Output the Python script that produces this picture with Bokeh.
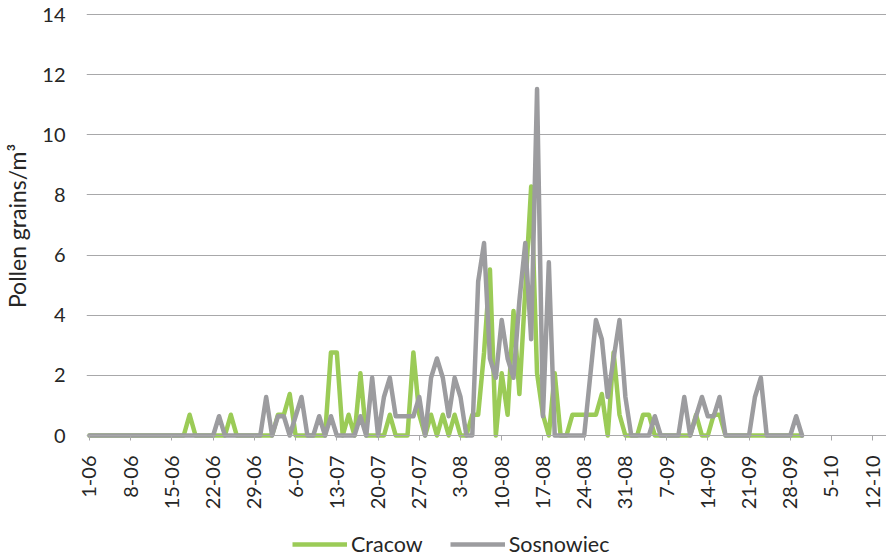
import math
from bokeh.plotting import figure
from bokeh.layouts import column
from bokeh.models import FixedTicker, Legend, LegendItem, Range1d, Span
from bokeh.embed import file_html
from bokeh.resources import INLINE

# Daily pollen concentrations, 1 June .. 30 September (pollen grains / m3)
cracow = [
    0, 0, 0, 0, 0, 0, 0, 0, 0, 0,
    0, 0, 0, 0, 0, 0, 0, 0.69, 0, 0,
    0, 0, 0, 0, 0.69, 0, 0, 0, 0, 0,
    0, 0, 0.69, 0.69, 1.38, 0, 0, 0, 0, 0,
    0, 2.76, 2.76, 0, 0.69, 0, 2.07, 0, 0, 0,
    0, 0.69, 0, 0, 0, 2.76, 0.69, 0, 0.69, 0,
    0.69, 0, 0.69, 0, 0, 0.69, 0.69, 2.76, 5.52, 0,
    2.07, 0.69, 4.14, 1.38, 4.83, 8.28, 2.07, 0.69, 0, 2.07,
    0, 0, 0.69, 0.69, 0.69, 0.69, 0.69, 1.38, 0, 2.76,
    0.69, 0, 0, 0, 0.69, 0.69, 0, 0, 0, 0,
    0, 0, 0, 0.69, 0, 0, 0.69, 0.69, 0, 0,
    0, 0, 0, 0, 0, 0, 0, 0, 0, 0,
    0, 0,
]
sosnowiec = [
    0, 0, 0, 0, 0, 0, 0, 0, 0, 0,
    0, 0, 0, 0, 0, 0, 0, 0, 0, 0,
    0, 0, 0.64, 0, 0, 0, 0, 0, 0, 0,
    1.28, 0, 0.64, 0.64, 0, 0.64, 1.28, 0, 0, 0.64,
    0, 0.64, 0, 0, 0, 0, 0.64, 0, 1.92, 0,
    1.28, 1.92, 0.64, 0.64, 0.64, 0.64, 1.28, 0, 1.92, 2.56,
    1.92, 0.64, 1.92, 1.28, 0, 0, 5.12, 6.4, 2.56, 1.92,
    3.84, 2.56, 1.92, 4.48, 6.4, 3.2, 11.52, 0.64, 5.76, 0,
    0, 0, 0, 0, 0, 1.92, 3.84, 3.2, 1.28, 2.56,
    3.84, 1.28, 0, 0, 0, 0, 0.64, 0, 0, 0,
    0, 1.28, 0, 0.64, 1.28, 0.64, 0.64, 1.28, 0, 0,
    0, 0, 0, 1.28, 1.92, 0, 0, 0, 0, 0,
    0.64, 0,
]
series_names = ["Cracow", "Sosnowiec"]
tick_days = [0, 7, 14, 21, 28, 35, 42, 49, 56, 63, 70, 77, 84, 91, 98, 105, 112, 119, 126, 133]
tick_labels = ["1-06", "8-06", "15-06", "22-06", "29-06", "6-07", "13-07", "20-07", "27-07", "3-08",
               "10-08", "17-08", "24-08", "31-08", "7-09", "14-09", "21-09", "28-09", "5-10", "12-10"]
y_ticks = [0, 2, 4, 6, 8, 10, 12, 14]

days = list(range(len(cracow)))

FONT = "Lato"
TXT = "#262626"
GREEN = "#9BCB57"
GRAY = "#9C9C9F"
GRID = "#A8A8AA"
LW = 4.5

p = figure(frame_width=800, frame_height=429, output_backend="svg", toolbar_location=None,
           x_range=Range1d(-0.509, 135.34), y_range=Range1d(-0.166, 14.1),
           min_border_left=80, min_border_right=0, min_border_top=11, min_border_bottom=75)
p.outline_line_color = None
p.xgrid.visible = False
p.ygrid.ticker = FixedTicker(ticks=y_ticks[1:])
p.ygrid.grid_line_color = GRID
p.ygrid.grid_line_width = 1

ya = p.yaxis[0]
ya.ticker = FixedTicker(ticks=y_ticks)
ya.axis_line_color = None
ya.major_tick_line_color = None
ya.minor_tick_line_color = None
ya.major_tick_out = 0
ya.major_tick_in = 0
ya.major_label_standoff = 21
ya.major_label_text_font = FONT
ya.major_label_text_font_size = "20px"
ya.major_label_text_color = TXT
ya.axis_label = "Pollen grains/m³"
ya.axis_label_text_font = FONT
ya.axis_label_text_font_size = "23px"
ya.axis_label_text_font_style = "normal"
ya.axis_label_text_color = TXT
ya.axis_label_standoff = 8

xa = p.xaxis[0]
xa.ticker = FixedTicker(ticks=tick_days)
xa.major_label_overrides = dict(zip(tick_days, tick_labels))
xa.major_label_orientation = math.pi / 2
xa.axis_line_color = None
xa.major_tick_line_color = GRID
xa.minor_tick_line_color = None
xa.major_tick_out = 0
xa.major_tick_in = 5
xa.major_label_standoff = 15
xa.major_label_text_font = FONT
xa.major_label_text_font_size = "20px"
xa.major_label_text_color = TXT

p.add_layout(Span(location=0, dimension="width", line_color=GRID, line_width=1))

p.line(days, cracow, line_color=GREEN, line_width=LW, line_join="round", line_cap="round")
p.line(days, sosnowiec, line_color=GRAY, line_width=LW, line_join="round", line_cap="round")

# legend strip below the chart (series drawn off-screen so that only the legend keys show)
lf = figure(width=880, height=44, output_backend="svg", toolbar_location=None,
            x_range=Range1d(0, 1), y_range=Range1d(100, 101),
            x_axis_location=None, y_axis_location=None, min_border=0)
lf.outline_line_color = None
lf.grid.visible = False
g1 = lf.line(days, cracow, line_color=GREEN, line_width=LW)
g2 = lf.line(days, sosnowiec, line_color=GRAY, line_width=LW)
legend = Legend(items=[LegendItem(label=series_names[0], renderers=[g1]),
                       LegendItem(label=series_names[1], renderers=[g2])],
                orientation="horizontal", location=(206, 2),
                border_line_color=None, background_fill_alpha=0,
                label_text_font=FONT, label_text_font_size="21.5px", label_text_color=TXT,
                glyph_width=55, glyph_height=20, spacing=27, label_standoff=4,
                padding=0, margin=0)
lf.add_layout(legend, "center")

layout = column(p, lf, spacing=0)
open("out.html", "w").write(file_html(layout, INLINE))
